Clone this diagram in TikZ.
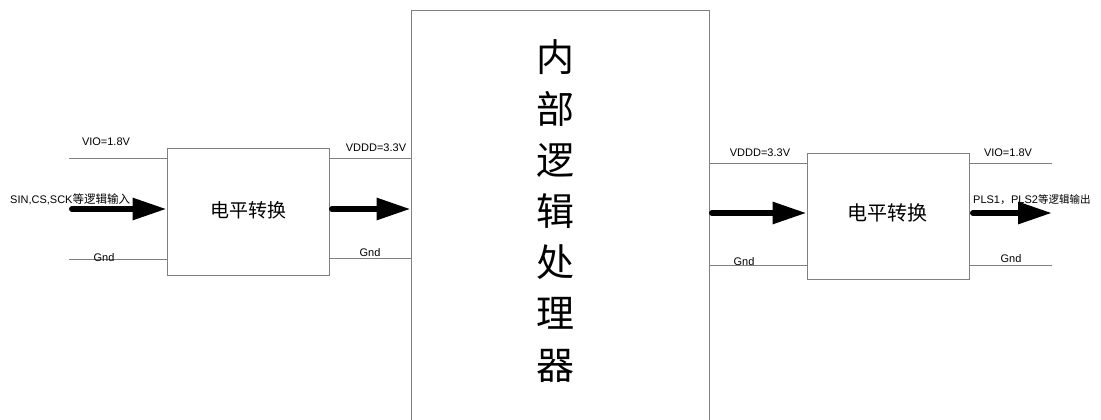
\documentclass[tikz,border=0pt]{standalone}
\usepackage{fontspec}
\setmainfont{Liberation Sans}
\newfontfamily\cjk{Noto Sans CJK SC}
\usetikzlibrary{arrows.meta}
\definecolor{wiregray}{HTML}{808080}
\tikzset{
  wire/.style={draw=wiregray, line width=1pt},
  blockbox/.style={draw=wiregray, line width=1pt, fill=white, inner sep=0pt},
  lbl/.style={font=\fontsize{11}{13}\selectfont, inner sep=0pt, text=black},
  bigarrow/.style={line width=6pt, line cap=round, -{Triangle[length=34pt,width=21pt]}},
}
\begin{document}
\begin{tikzpicture}[x=1pt,y=-1pt]
\useasboundingbox (0,0) rectangle (1101,420);
\clip (0,0) rectangle (1101,420);
% blocks
\node[blockbox, minimum width=162pt, minimum height=127pt] (lbox) at (248,211.5) {};
\node[blockbox, minimum width=298pt, minimum height=420pt] (cbox) at (560,221) {};
\node[blockbox, minimum width=162pt, minimum height=126pt] (rbox) at (888,216) {};
% block texts
\node[font=\cjk\fontsize{19}{22}\selectfont, inner sep=0pt] (ltxt) at (248,210) {电平转换};
\node[font=\cjk\fontsize{20}{23}\selectfont, inner sep=0pt] (rtxt) at (887,213) {电平转换};
\node[font=\cjk\fontsize{38}{51.2}\selectfont, align=center, inner sep=0pt] (ctxt) at (555,211) {内\\部\\逻\\辑\\处\\理\\器};
% free ends
\coordinate (vioL) at (69,158);
\coordinate (gndL) at (69,259);
\coordinate (inL) at (72,209);
\coordinate (midA) at (332,209);
\coordinate (vdddR) at (709,163);
\coordinate (gndR) at (709,265);
\coordinate (midB) at (712,213);
\coordinate (vioR) at (1052,163);
\coordinate (gndRR) at (1052,265);
\coordinate (outR) at (1052,213);
\coordinate (outS) at (973,213);
% wires left
\draw[wire] (vioL) -- (vioL -| lbox.west);
\draw[wire] (gndL) -- (gndL -| lbox.west);
\draw[wire] (lbox.east |- vioL) -- (cbox.west |- vioL);
\draw[wire] (lbox.east |- 0,258) -- (cbox.west |- 0,258);
% wires right
\draw[wire] (vdddR) -- (vdddR -| rbox.west);
\draw[wire] (gndR) -- (gndR -| rbox.west);
\draw[wire] (rbox.east |- vioR) -- (vioR);
\draw[wire] (rbox.east |- gndRR) -- (gndRR);
% arrows
\draw[bigarrow] (inL) -- (inL -| lbox.west);
\draw[bigarrow] (midA) -- (midA -| cbox.west);
\draw[bigarrow] (midB) -- (midB -| rbox.west);
\draw[bigarrow] (outS) -- (outR);
% labels
\node[lbl] (lvioL) at (106,142) {VIO=1.8V};
\node[lbl] (lvdddL) at (376,148) {VDDD=3.3V};
\node[lbl] (lgndL) at (104,258) {Gnd};
\node[lbl] (lgndM) at (370,253) {Gnd};
\node[lbl, anchor=west] (lin) at (10,199) {SIN,CS,SCK{\cjk\fontsize{11.5}{13}\selectfont 等逻辑输入}};
\node[lbl] (lvdddR) at (760,153) {VDDD=3.3V};
\node[lbl] (lvioR) at (1008,153) {VIO=1.8V};
\node[lbl] (lgndR) at (744,262) {Gnd};
\node[lbl] (lgndRR) at (1011,259) {Gnd};
\node[lbl, anchor=west] (lout) at (973,200) {PLS1{\cjk ，}PLS2{\cjk\fontsize{10.5}{12}\selectfont 等逻辑输出}};
\end{tikzpicture}
\end{document}
